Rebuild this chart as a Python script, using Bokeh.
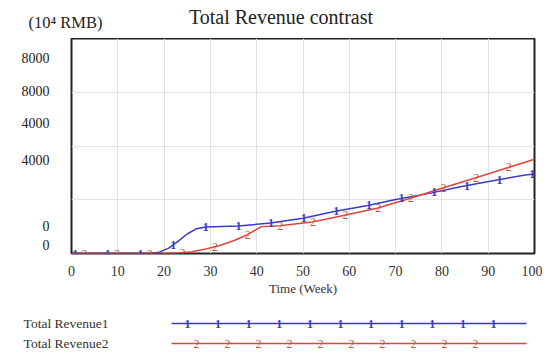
import numpy as np
from bokeh.plotting import figure
from bokeh.layouts import column
from bokeh.models import Range1d, FixedTicker
from bokeh.core.properties import value
from bokeh.embed import file_html
from bokeh.resources import INLINE

# ---- data ----
weeks1 = [0, 17, 19, 21, 23, 25, 27, 29, 36, 43, 50, 57, 64, 70, 77, 84, 91, 98, 100]
revenue1 = [0, 0, 100, 400, 900, 1450, 1850, 1970, 2046, 2265, 2630, 3150, 3580, 4018, 4456, 4968, 5406, 5845, 5918]
weeks2 = [0, 20, 23, 26, 29, 32, 35, 38, 41, 45, 52, 59, 66, 73, 80, 87, 94, 100]
revenue2 = [0, 0, 30, 130, 330, 600, 950, 1400, 2000, 2060, 2338, 2849, 3361, 4091, 4850, 5600, 6360, 7014]
x_ticks = [0, 10, 20, 30, 40, 50, 60, 70, 80, 90, 100]
y_tick_pos = [14540, 12130, 9717, 6940, 2046, 657]
y_tick_labels = ["8000", "8000", "4000", "4000", "0", "0"]
y_grid = [4000, 8000, 12000]
names = ["Total Revenue1", "Total Revenue2"]
title_text = "Total Revenue contrast"
unit_text = "(10\u2074 RMB)"

BLUE = "#3a3ac4"
RED = "#e0453c"
MARK2 = "#b8604a"
SERIF = "Liberation Serif"


def bare(fig):
    fig.xaxis.visible = False
    fig.grid.visible = False
    fig.outline_line_color = None
    fig.yaxis.axis_line_color = None
    fig.yaxis.major_tick_line_color = None
    fig.yaxis.minor_tick_line_color = None


# ---- header strip: title and unit (frame aligned with the chart's frame) ----
hd = figure(width=542, height=38, output_backend="svg", toolbar_location=None,
            x_range=Range1d(71, 534), y_range=Range1d(38, 0),
            min_border_left=71, min_border_right=8, min_border_top=0, min_border_bottom=0)
bare(hd)
hd.yaxis.ticker = FixedTicker(ticks=[22])
hd.yaxis.major_label_overrides = {22: unit_text}
hd.yaxis.major_label_text_font = SERIF
hd.yaxis.major_label_text_font_size = "16.5px"
hd.yaxis.major_label_text_color = "#222222"
hd.yaxis.major_label_standoff = -37
hd.text(x=[280.5], y=[16], text=[title_text], text_font=value(SERIF), text_font_size="20px",
        text_color="#222222", text_align="center", text_baseline="middle")

# ---- main chart ----
p = figure(width=542, height=260, output_backend="svg", toolbar_location=None,
           x_range=Range1d(0, 100), y_range=Range1d(0, 16000),
           min_border_left=71, min_border_right=8, min_border_top=0, min_border_bottom=41)
p.outline_line_color = "#222222"
p.outline_line_width = 2

p.xaxis.ticker = FixedTicker(ticks=x_ticks)
p.xaxis.axis_line_color = None
p.xaxis.major_tick_line_color = None
p.xaxis.minor_tick_line_color = None
p.xaxis.major_label_text_font = SERIF
p.xaxis.major_label_text_font_size = "14px"
p.xaxis.major_label_text_color = "#333333"
p.xaxis.major_label_standoff = 6
p.xaxis.axis_label = "Time (Week)"
p.xaxis.axis_label_text_font = SERIF
p.xaxis.axis_label_text_font_size = "13px"
p.xaxis.axis_label_text_font_style = "normal"
p.xaxis.axis_label_standoff = 2
p.xaxis.axis_label_text_color = "#333333"

p.yaxis.ticker = FixedTicker(ticks=y_tick_pos)
p.yaxis.major_label_overrides = {v: t for v, t in zip(y_tick_pos, y_tick_labels)}
p.yaxis.axis_line_color = None
p.yaxis.major_tick_line_color = None
p.yaxis.minor_tick_line_color = None
p.yaxis.major_label_text_font = SERIF
p.yaxis.major_label_text_font_size = "14px"
p.yaxis.major_label_text_color = "#222222"
p.yaxis.major_label_standoff = 16

p.xgrid.ticker = FixedTicker(ticks=x_ticks)
p.ygrid.ticker = FixedTicker(ticks=y_grid)
p.xgrid.grid_line_color = "#e2e2e2"
p.ygrid.grid_line_color = "#e2e2e2"

p.line(weeks1, revenue1, line_color=BLUE, line_width=1.5)
p.line(weeks2, revenue2, line_color=RED, line_width=1.5)

m1x = np.arange(0.8, 100, 7.05)
m1y = np.interp(m1x, weeks1, revenue1)
m2x = np.arange(2.8, 100, 7.05)
m2y = np.interp(m2x, weeks2, revenue2)
p.text(x=m1x, y=m1y, text=["1"] * len(m1x), text_color=BLUE, text_font=value(SERIF),
       text_font_size="12px", text_align="center", text_baseline="middle", text_font_style="bold")
p.text(x=m2x, y=m2y, text=["2"] * len(m2x), text_color=MARK2, text_font=value(SERIF),
       text_font_size="12px", text_align="center", text_baseline="middle")

# ---- legend strip ----
rows_y = [25, 45]
lg = figure(width=542, height=63, output_backend="svg", toolbar_location=None,
            x_range=Range1d(71, 534), y_range=Range1d(63, 0),
            min_border_left=71, min_border_right=8, min_border_top=0, min_border_bottom=0)
bare(lg)
lg.yaxis.ticker = FixedTicker(ticks=rows_y)
lg.yaxis.major_label_overrides = {v: t for v, t in zip(rows_y, names)}
lg.yaxis.major_label_text_font = SERIF
lg.yaxis.major_label_text_font_size = "13.5px"
lg.yaxis.major_label_text_color = "#333333"
lg.yaxis.major_label_standoff = -43

lg.line(x=[171, 526], y=[rows_y[0]] * 2, line_color=BLUE, line_width=1.5)
lg.line(x=[171, 526], y=[rows_y[1]] * 2, line_color=RED, line_width=1.5)
l1x = np.linspace(187, 493, 11)
l2x = np.linspace(196, 475, 10)
lg.text(x=l1x, y=[rows_y[0]] * len(l1x), text=["1"] * len(l1x), text_color=BLUE,
        text_font=value(SERIF), text_font_size="12px", text_align="center",
        text_baseline="middle", text_font_style="bold")
lg.text(x=l2x, y=[rows_y[1]] * len(l2x), text=["2"] * len(l2x), text_color=MARK2,
        text_font=value(SERIF), text_font_size="12px", text_align="center",
        text_baseline="middle")

layout = column(hd, p, lg, spacing=0)
open("out.html", "w").write(file_html(layout, INLINE))
